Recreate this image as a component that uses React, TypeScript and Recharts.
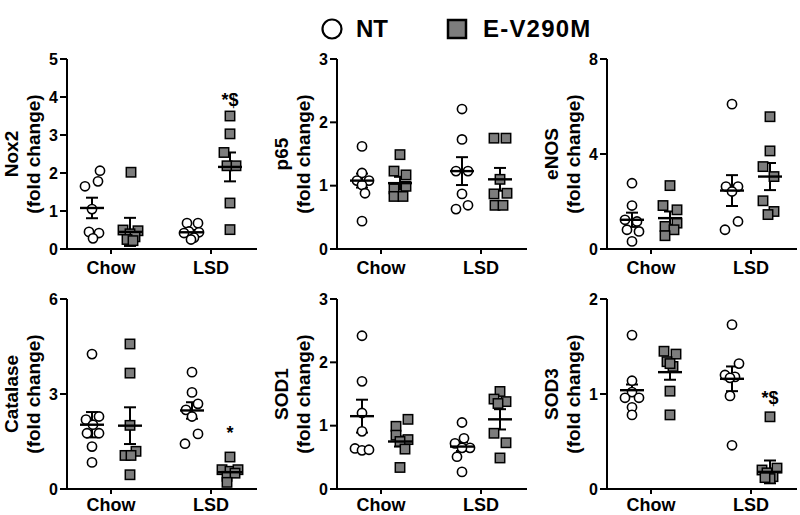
import React from 'react';
import { ScatterChart, Scatter, XAxis, YAxis, ErrorBar } from 'recharts';

type Pt = [number, number]; // [fold change, sideways jitter in group units]

const FONT = '"Liberation Sans", Arial, sans-serif';
const groups = ['Chow', 'LSD'];
const groupTicks = [0, 1];
const seriesNames = ['NT', 'E-V290M'];
const NT_POS = -0.19;
const EV_POS = 0.19;

// Nox2
const nox2Ticks = [0, 1, 2, 3, 4, 5];
const nox2NtChow: Pt[] = [[2.06, 0.08], [1.78, 0.06], [1.65, -0.07], [1.05, 0], [0.45, -0.03], [0.42, 0.07], [0.28, 0.01]];
const nox2EvChow: Pt[] = [[2.02, 0.01], [0.5, -0.07], [0.48, 0.08], [0.4, 0], [0.32, 0.05], [0.25, -0.03], [0.22, 0.03]];
const nox2NtLsd: Pt[] = [[0.68, -0.05], [0.68, 0.06], [0.46, -0.03], [0.44, 0.07], [0.42, -0.08], [0.3, 0.02], [0.25, -0.01]];
const nox2EvLsd: Pt[] = [[3.5, 0], [3.03, 0], [2.54, -0.06], [2.19, -0.03], [2.19, 0.06], [1.21, 0], [0.51, 0]];
const nox2Mean = [1.08, 0.45, 0.44, 2.16];
const nox2Sem = [0.27, 0.37, 0.06, 0.38];

// p65
const p65Ticks = [0, 1, 2, 3];
const p65NtChow: Pt[] = [[1.62, 0], [1.2, 0], [1.08, -0.05], [1.08, 0.07], [1.01, 0], [0.88, 0.03], [0.44, 0]];
const p65EvChow: Pt[] = [[1.49, 0], [1.23, -0.06], [1.17, 0.06], [0.99, 0.06], [0.95, -0.06], [0.83, -0.06], [0.83, 0.03]];
const p65NtLsd: Pt[] = [[2.21, 0], [1.73, 0], [1.23, -0.06], [1.23, 0.06], [0.87, 0], [0.63, -0.06], [0.69, 0.06]];
const p65EvLsd: Pt[] = [[1.75, -0.06], [1.75, 0.06], [1.1, 0], [0.87, -0.06], [0.88, 0.07], [0.69, -0.05], [0.69, 0.03]];
const p65Mean = [1.08, 1.04, 1.23, 1.1];
const p65Sem = [0.11, 0.1, 0.22, 0.18];

// eNOS
const enosTicks = [0, 4, 8];
const enosNtChow: Pt[] = [[2.77, 0], [1.83, 0], [1.23, -0.07], [1.16, 0.05], [0.81, -0.05], [0.74, 0.07], [0.32, 0]];
const enosEvChow: Pt[] = [[2.67, 0], [1.83, -0.07], [1.65, 0.07], [1.09, 0.07], [0.95, -0.05], [0.81, 0.04], [0.56, -0.05]];
const enosNtLsd: Pt[] = [[6.1, 0], [2.63, -0.06], [2.63, 0.06], [2.42, 0], [1.16, 0.06], [0.81, -0.07]];
const enosEvLsd: Pt[] = [[5.57, 0], [4.13, 0], [3.47, -0.07], [3.05, 0.04], [2.03, -0.07], [1.58, 0.04], [1.45, -0.02]];
const enosMean = [1.23, 1.3, 2.46, 3.05];
const enosSem = [0.3, 0.28, 0.65, 0.57];

// Catalase
const catTicks = [0, 3, 6];
const catNtChow: Pt[] = [[4.26, 0], [2.29, 0.07], [2.19, -0.06], [2.03, 0.01], [1.76, -0.05], [1.76, 0.07], [1.34, 0], [0.84, 0]];
const catEvChow: Pt[] = [[4.58, 0], [3.66, 0], [2.01, 0], [1.19, 0.06], [1.06, -0.05], [1.06, 0.01], [0.45, 0]];
const catNtLsd: Pt[] = [[3.69, 0], [3.05, 0], [2.69, 0.06], [2.5, -0.06], [2.29, 0], [1.74, 0.06], [1.43, -0.07]];
const catEvLsd: Pt[] = [[1.01, 0], [0.61, -0.08], [0.56, 0], [0.61, 0.08], [0.4, -0.03], [0.5, 0.05], [0.21, -0.03]];
const catMean = [2.03, 2.0, 2.48, 0.53];
const catSem = [0.4, 0.58, 0.26, 0.15];

// SOD1
const sod1Ticks = [0, 1, 2, 3];
const sod1NtChow: Pt[] = [[2.42, 0], [1.7, 0], [1.2, 0], [0.91, 0], [0.64, -0.07], [0.61, 0], [0.62, 0.07]];
const sod1EvChow: Pt[] = [[1.1, 0.08], [0.99, -0.04], [0.85, -0.04], [0.78, 0.08], [0.75, 0], [0.63, 0.05], [0.34, 0]];
const sod1NtLsd: Pt[] = [[1.05, 0], [0.8, 0.02], [0.72, -0.07], [0.65, 0.08], [0.65, 0], [0.51, -0.05], [0.27, 0]];
const sod1EvLsd: Pt[] = [[1.54, 0], [1.42, -0.06], [1.38, 0.06], [1.35, -0.02], [0.88, -0.06], [0.73, 0.06], [0.49, 0]];
const sod1Mean = [1.15, 0.75, 0.67, 1.1];
const sod1Sem = [0.26, 0.08, 0.07, 0.16];

// SOD3
const sod3Ticks = [0, 1, 2];
const sod3NtChow: Pt[] = [[1.62, 0], [1.14, 0], [1.02, 0], [0.96, -0.07], [0.96, 0.07], [0.86, 0], [0.78, 0]];
const sod3EvChow: Pt[] = [[1.45, -0.06], [1.42, 0.06], [1.34, -0.03], [1.29, 0.03], [1.32, 0], [1.03, 0], [0.78, 0]];
const sod3NtLsd: Pt[] = [[1.73, 0], [1.32, 0.07], [1.2, -0.07], [1.18, 0.03], [1.17, -0.02], [0.98, -0.02], [0.46, 0]];
const sod3EvLsd: Pt[] = [[0.76, 0], [0.2, -0.08], [0.22, 0.07], [0.17, -0.03], [0.13, 0.03], [0.11, 0], [0.12, -0.05]];
const sod3Mean = [1.04, 1.23, 1.16, 0.18];
const sod3Sem = [0.06, 0.08, 0.13, 0.12];

// significance marks over E-V290M / LSD
const nox2Note = { text: '*$', y: 3.92 };
const catNote = { text: '*', y: 1.76 };
const sod3Note = { text: '*$', y: 0.96 };

type PanelDef = {
  name: string;
  ticks: number[];
  ntChow: Pt[];
  evChow: Pt[];
  ntLsd: Pt[];
  evLsd: Pt[];
  mean: number[];
  sem: number[];
  note?: { text: string; y: number };
};

const panels: PanelDef[] = [
  { name: 'Nox2', ticks: nox2Ticks, ntChow: nox2NtChow, evChow: nox2EvChow, ntLsd: nox2NtLsd, evLsd: nox2EvLsd, mean: nox2Mean, sem: nox2Sem, note: nox2Note },
  { name: 'p65', ticks: p65Ticks, ntChow: p65NtChow, evChow: p65EvChow, ntLsd: p65NtLsd, evLsd: p65EvLsd, mean: p65Mean, sem: p65Sem },
  { name: 'eNOS', ticks: enosTicks, ntChow: enosNtChow, evChow: enosEvChow, ntLsd: enosNtLsd, evLsd: enosEvLsd, mean: enosMean, sem: enosSem },
  { name: 'Catalase', ticks: catTicks, ntChow: catNtChow, evChow: catEvChow, ntLsd: catNtLsd, evLsd: catEvLsd, mean: catMean, sem: catSem, note: catNote },
  { name: 'SOD1', ticks: sod1Ticks, ntChow: sod1NtChow, evChow: sod1EvChow, ntLsd: sod1NtLsd, evLsd: sod1EvLsd, mean: sod1Mean, sem: sod1Sem },
  { name: 'SOD3', ticks: sod3Ticks, ntChow: sod3NtChow, evChow: sod3EvChow, ntLsd: sod3NtLsd, evLsd: sod3EvLsd, mean: sod3Mean, sem: sod3Sem, note: sod3Note },
];

const GREY = '#7d7d7d';

const circleShape = (p: any) => (
  <circle cx={p.cx} cy={p.cy} r={4.6} fill="#fff" stroke="#000" strokeWidth={1.6} />
);
const squareShape = (p: any) => (
  <rect x={p.cx - 4.7} y={p.cy - 4.7} width={9.4} height={9.4} fill={GREY} stroke="#000" strokeWidth={1.5} />
);
const meanShape = (p: any) => (
  <line x1={p.cx - 12} x2={p.cx + 12} y1={p.cy} y2={p.cy} stroke="#000" strokeWidth={2.4} />
);
const noteShape = (p: any) => (
  <text x={p.cx} y={p.cy} textAnchor="middle" dominantBaseline="central" fontSize={18} fontWeight="bold" fontFamily={FONT} fill="#000">
    {p.payload.text}
  </text>
);

function Panel({ p, left, top, labelGap, h }: { p: PanelDef; left: number; top: number; labelGap: number; h: number }) {
  const toPts = (arr: Pt[], base: number) => arr.map(([v, j]) => ({ x: base + j, y: v }));
  const nt = [...toPts(p.ntChow, NT_POS), ...toPts(p.ntLsd, 1 + NT_POS)];
  const ev = [...toPts(p.evChow, EV_POS), ...toPts(p.evLsd, 1 + EV_POS)];
  const centers = [NT_POS, EV_POS, 1 + NT_POS, 1 + EV_POS];
  const means = centers.map((x, i) => ({ x, y: p.mean[i], err: p.sem[i] }));
  const notes = p.note ? [{ x: 1 + EV_POS, y: p.note.y, text: p.note.text }] : [];
  const yMax = p.ticks[p.ticks.length - 1];

  return (
    <div style={{ position: 'absolute', left, top, width: 260, height: h }}>
      <ScatterChart width={260} height={h} margin={{ top: 19, right: 3, bottom: 0, left: 0 }}>
        <XAxis
          type="number"
          dataKey="x"
          domain={[-0.44, 1.46]}
          ticks={groupTicks}
          interval={0}
          tickFormatter={(v: number) => groups[v]}
          height={h - 209}
          tickSize={5}
          tickMargin={labelGap}
          allowDataOverflow
          axisLine={{ stroke: '#000', strokeWidth: 2 }}
          tickLine={{ stroke: '#000', strokeWidth: 2 }}
          tick={{ fill: '#000', fontSize: 18, fontWeight: 'bold', fontFamily: FONT }}
        />
        <YAxis
          type="number"
          dataKey="y"
          domain={[0, yMax]}
          ticks={p.ticks}
          interval={0}
          width={67}
          tickSize={7}
          tickMargin={2}
          allowDataOverflow
          axisLine={{ stroke: '#000', strokeWidth: 2 }}
          tickLine={{ stroke: '#000', strokeWidth: 2 }}
          tick={{ fill: '#000', fontSize: 16, fontWeight: 'bold', fontFamily: FONT }}
        />
        <Scatter name={seriesNames[0]} data={nt} shape={circleShape} isAnimationActive={false} />
        <Scatter name={seriesNames[1]} data={ev} shape={squareShape} isAnimationActive={false} />
        <Scatter data={means} shape={meanShape} isAnimationActive={false}>
          <ErrorBar dataKey="err" direction="y" width={6} stroke="#000" strokeWidth={2} isAnimationActive={false} />
        </Scatter>
        {notes.length > 0 && <Scatter data={notes} shape={noteShape} isAnimationActive={false} />}
      </ScatterChart>
      <svg width={60} height={230} style={{ position: 'absolute', left: 0, top: 0, pointerEvents: 'none' }}>
        <g fontFamily={FONT} fontWeight="bold" fontSize={19} fill="#000" textAnchor="middle">
          <text x={11} y={114} dominantBaseline="central" transform="rotate(-90 11 114)">{p.name}</text>
          <text x={33} y={114} dominantBaseline="central" transform="rotate(-90 33 114)">(fold change)</text>
        </g>
      </svg>
    </div>
  );
}

function Legend() {
  return (
    <svg width={800} height={45} style={{ position: 'absolute', left: 0, top: 0 }}>
      <circle cx={332} cy={29} r={9.5} fill="#fff" stroke="#000" strokeWidth={2.2} />
      <text x={356} y={37} fontFamily={FONT} fontWeight="bold" fontSize={24} fill="#000">{seriesNames[0]}</text>
      <rect x={448} y={20} width={18} height={18} fill={GREY} stroke="#000" strokeWidth={2.5} />
      <text x={483} y={37} fontFamily={FONT} fontWeight="bold" fontSize={24} letterSpacing={1.2} fill="#000">{seriesNames[1]}</text>
    </svg>
  );
}

export default function App() {
  const lefts = [0, 270, 540];
  const tops = [40, 280];
  const gaps = [7, 4];
  const heights = [240, 235];
  return (
    <div style={{ position: 'absolute', left: 0, top: 0, width: 800, height: 515, background: '#fff', overflow: 'hidden' }}>
      <Legend />
      {panels.map((p, i) => {
        const row = Math.floor(i / 3);
        return <Panel key={p.name} p={p} left={lefts[i % 3]} top={tops[row]} labelGap={gaps[row]} h={heights[row]} />;
      })}
    </div>
  );
}
